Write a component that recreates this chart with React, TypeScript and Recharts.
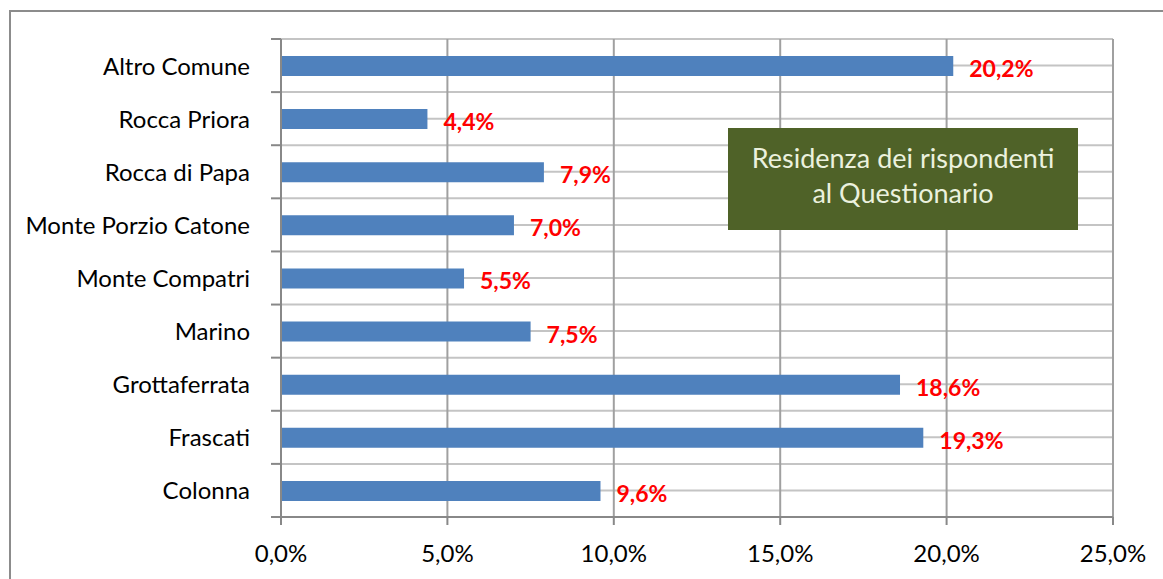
import React from "react";
import { BarChart, Bar, XAxis, YAxis, CartesianGrid, LabelList } from "recharts";

const categories = [
  "Altro Comune",
  "Rocca Priora",
  "Rocca di Papa",
  "Monte Porzio Catone",
  "Monte Compatri",
  "Marino",
  "Grottaferrata",
  "Frascati",
  "Colonna",
];
const values = [0.202, 0.044, 0.079, 0.07, 0.055, 0.075, 0.186, 0.193, 0.096];
const xTicks = [0, 0.05, 0.1, 0.15, 0.2, 0.25];
const titleLines = ["Residenza dei rispondenti", "al Questionario"];

const data = categories.map((name, i) => ({ name, value: values[i] }));

const FONT = "Lato, 'Open Sans', sans-serif";
const W = 1163;
const H = 579;
const PLOT_TOP = 39;
const PLOT_BOTTOM = 517;
const BAND = (PLOT_BOTTOM - PLOT_TOP) / categories.length;

const fmt = (v: number, d: number) => (v * 100).toFixed(d).replace(".", ",") + "%";

const YTick = (props: any) => {
  const { x, y, payload, index } = props;
  return (
    <g>
      <line x1={x - 10} x2={x} y1={y - BAND / 2} y2={y - BAND / 2} stroke="#888" strokeWidth={2} />
      {index === categories.length - 1 && (
        <line x1={x - 10} x2={x} y1={y + BAND / 2} y2={y + BAND / 2} stroke="#888" strokeWidth={2} />
      )}
      <text x={x - 31} y={y} dy={9} textAnchor="end" fontSize={24} fontFamily={FONT} fill="#000">
        {payload.value}
      </text>
    </g>
  );
};

const ValueLabel = (props: any) => {
  const { x, y, width, height, value } = props;
  return (
    <text
      x={x + width + 16}
      y={y + height / 2}
      dy={11}
      fontSize={23}
      fontWeight="bold"
      fontFamily={FONT}
      fill="#FF0000"
    >
      {fmt(value, 1)}
    </text>
  );
};

export default function App() {
  return (
    <div
      style={{
        position: "absolute",
        left: 0,
        top: 0,
        width: W,
        height: H,
        overflow: "hidden",
        background: "#fff",
      }}
    >
      <div
        style={{
          position: "absolute",
          left: 9,
          top: 10,
          width: W + 20,
          height: H + 20,
          border: "2px solid #8c8c8c",
          boxSizing: "border-box",
        }}
      />
      <div style={{ position: "absolute", left: 0, top: 0 }}>
        <BarChart
          width={W}
          height={H}
          data={data}
          layout="vertical"
          margin={{ top: PLOT_TOP, right: W - 1113, bottom: 0, left: 0 }}
        >
          <CartesianGrid
            vertical={false}
            stroke="#c4c4c4"
            strokeWidth={2}
            horizontalCoordinatesGenerator={(p: any) => {
              const o = p.offset;
              const n = categories.length * 2;
              const arr: number[] = [];
              for (let i = 0; i <= n; i++) arr.push(o.top + (i * o.height) / n);
              return arr;
            }}
          />
          <CartesianGrid horizontal={false} stroke="#a0a0a0" strokeWidth={2} />
          <XAxis
            type="number"
            domain={[0, 0.25]}
            ticks={xTicks}
            tickFormatter={(v: number) => fmt(v, 1)}
            stroke="#888"
            strokeWidth={2}
            height={H - PLOT_BOTTOM}
            tickSize={8}
            tickMargin={20}
            tick={{ fontSize: 24, fontFamily: FONT, fill: "#000" }}
            interval={0}
          />
          <YAxis
            type="category"
            dataKey="name"
            width={281}
            stroke="#888"
            strokeWidth={2}
            tickLine={false}
            tickSize={0}
            tickMargin={0}
            tick={<YTick />}
            interval={0}
          />
          <Bar dataKey="value" fill="#4F81BD" barSize={20} isAnimationActive={false}>
            <LabelList dataKey="value" content={<ValueLabel />} />
          </Bar>
        </BarChart>
      </div>
      <div
        style={{
          position: "absolute",
          left: 728,
          top: 128,
          width: 350,
          height: 102,
          background: "#4F6228",
          color: "#EBF1DE",
          fontFamily: FONT,
          fontSize: 27,
          lineHeight: "35px",
          textAlign: "center",
          boxSizing: "border-box",
          paddingTop: 12,
        }}
      >
        {titleLines.map((t) => (
          <div key={t}>{t}</div>
        ))}
      </div>
    </div>
  );
}
